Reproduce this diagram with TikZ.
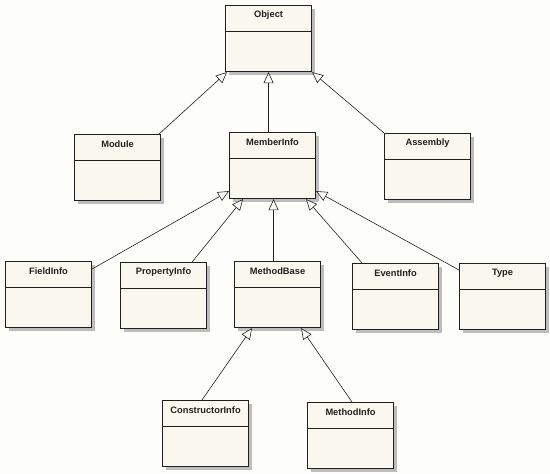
\documentclass[tikz,border=0pt]{standalone}
\usepackage{fontspec}
\setmainfont{Liberation Sans}
\usetikzlibrary{arrows.meta,calc,shadows}
\definecolor{bgc}{HTML}{FDFDF9}
\definecolor{boxc}{HTML}{FAF8EE}
\definecolor{shadc}{HTML}{BDBDBD}
\definecolor{linec}{HTML}{202020}
\tikzset{
  umlbox/.style={draw=linec, line width=1.1pt, fill=boxc, rectangle, inner sep=0pt,
    minimum width=86pt, minimum height=66pt, anchor=north west,
    drop shadow={shadow xshift=3pt, shadow yshift=-3pt, fill=shadc, opacity=1}},
  umltitle/.style={font=\bfseries\fontsize{9.3}{11}\selectfont, text=linec, inner sep=0pt},
  divider/.style={draw=linec, line width=0.8pt},
  inherit/.style={draw=linec, line width=0.6pt, -{Triangle[length=11pt,width=10pt,fill=bgc]}}
}
\newcommand{\umlclass}[4]{%
  \node[umlbox] (#1) at (#2,#3) {};
  \node[umltitle] (#1-t) at ($(#1.north)+(0,10)$) {#4};
  \draw[divider] ($(#1.north west)+(0,26)$) -- ($(#1.north east)+(0,26)$);
}
\begin{document}
\begin{tikzpicture}[x=1pt,y=-1pt]
\fill[bgc] (0,0) rectangle (550,474);
\useasboundingbox (0,0) rectangle (550,474);
\umlclass{obj}{225}{5}{Object}
\umlclass{mod}{74}{134}{Module}
\umlclass{mem}{229}{132}{MemberInfo}
\umlclass{asm}{384}{133}{Assembly}
\umlclass{fld}{5}{261}{FieldInfo}
\umlclass{prop}{120}{262}{PropertyInfo}
\umlclass{mb}{234}{261}{MethodBase}
\umlclass{evt}{352}{263}{EventInfo}
\umlclass{typ}{459}{263}{Type}
\umlclass{ctor}{162}{400}{ConstructorInfo}
\umlclass{mi}{307}{402}{MethodInfo}
\coordinate (memb) at ($(mem.south)+(1,0)$);
% inheritance
\draw[inherit] ($(mod.north east)+(-2,0)$) -- ($(obj.south west)+(2,0)$);
\draw[inherit] (asm.north west) -- (obj.south east);
\draw[inherit] (obj.south |- mem.north) -- (obj.south);
\draw[inherit] ($(fld.north east)+(0,8)$) -- ($(mem.south west)+(0,-8)$);
\draw[inherit] ($(prop.north east)+(-15,0)$) -- ($(mem.south west)+(14,0)$);
\draw[inherit] (memb |- mb.north) -- (memb);
\draw[inherit] ($(evt.north west)+(10,0)$) -- ($(mem.south east)+(-10,0)$);
\draw[inherit] ($(typ.north west)+(0,7)$) -- ($(mem.south east)+(0,-8)$);
\draw[inherit] ($(ctor.north west)+(40,0)$) -- ($(mb.south west)+(18,0)$);
\draw[inherit] ($(mi.north west)+(45,0)$) -- ($(mb.south east)+(-20,0)$);
\end{tikzpicture}
\end{document}
